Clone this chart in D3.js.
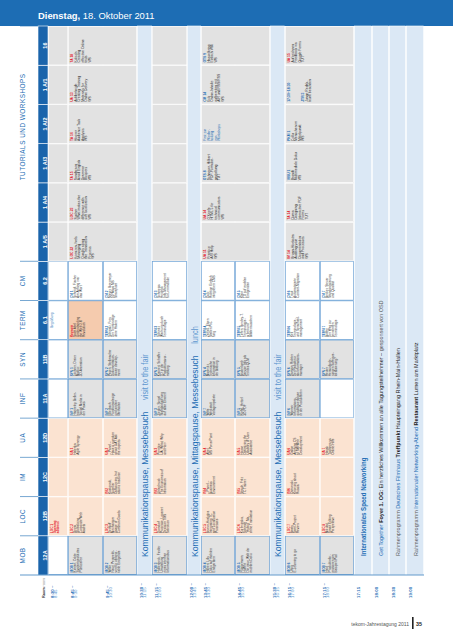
<!DOCTYPE html>
<html><head><meta charset="utf-8">
<script src="https://cdn.jsdelivr.net/npm/d3@7"></script>
<style>
html,body{margin:0;padding:0;background:#fff;}
svg{display:block;font-family:"Liberation Sans",Arial,sans-serif;}
</style></head><body>
<svg id="c" width="453" height="640"></svg>
<script>
// ---------- DATA ----------
const rooms = ["12A","12B","12C","12D","11A","11B","6.1","6.2","1 A/5","1 A/4","1 A/3","1 A/2","1 A/1","16"];
const categoryNames = ["MOB","LOC","IM","UA","INF","SYN","TERM","CM","TUTORIALS UND WORKSHOPS"];
const categoryFirst = ["12A","12B","12C","12D","11A","11B","6.1","6.2","1 A/5"];
const categoryLast  = ["12A","12B","12C","12D","11A","11B","6.1","6.2","16"];
const slotFrom = ["8:30 –","8:45 –","9:45 –","10:30 –","11:15 –","12:00 –","13:45 –","14:45 –","15:30 –","16:15 –","17:15 –","17:15","18:00","18:30","19:00"];
const slotTo   = ["8:45","9:30","10:30","11:15","12:00","13:45","14:30","15:30","16:15","17:00","18:00","","","",""];
const breakSlots = [3,5,8];
const breakMain = ["Kommunikationspause, Messebesuch","Kommunikationspause, Mittagspause, Messebesuch","Kommunikationspause, Messebesuch"];
const breakSub  = ["visit to the fair","lunch","visit to the fair"];
const eveningSlots = [11,12,13,14];
const eveningText = [
  [["Internationales Speed Networking","bb"]],
  [["Get Together ","b"],["Foyer 1. OG: ","kb"],["Ein herzliches Willkommen an alle Tagungsteilnehmer – ","k"],["gesponsert von OSD","g"]],
  [["Rahmenprogramm ","g"],["Deutsches Filmhaus ","b"],["Treffpunkt ","kb"],["Haupteingang Rhein-Main-Hallen","k"]],
  [["Rahmenprogramm ","g"],["Internationaler Networking-Abend ","b"],["Restaurant ","kb"],["Lumen am Marktplatz","k"]]
];
// [room, first slot, end slot (exclusive), code, text lines]
const sessions = [
  ["12A",1,2,"MOB 1","Kinnert, Dörte|Systemgestütztes|Publizieren"],
  ["12A",2,3,"MOB 2","Wilke|Neue Perspekti-|ven für ultrapor-|table Endgeräte"],
  ["12A",4,5,"MOB 3","Hollenbeck, Fiedler|Umstellung|eines internen|Informationsbus"],
  ["12A",6,7,"MOB 4","Hilbert, Lilly|Doku auf mobilen|Endgeräten"],
  ["12A",7,8,"MOB 5","Rüggemann,|Hoffert|Die neue Welt der|mobilen Doku"],
  ["12A",9,10,"MOB 6","Uhrig|E-Learning to go"],
  ["12A",10,11,"MOB 7","Heid|Produktinfor-|mationen am|Beispiel iPad"],
  ["12B",0,1,"LOC 1","Opening|address"],
  ["12B",1,2,"LOC 2","Gepts|Globalizing|Corporate Web|Assets"],
  ["12B",2,3,"LOC 3","Dethloff|Mechanism|Usage of|Common Goods"],
  ["12B",4,5,"LOC 4","Dorndorf|Prozesse, Locanet|Decision TMS|Selection"],
  ["12B",6,7,"LOC 5","Brown-Hoekstra|Integrating TC|and Localization|Processes"],
  ["12B",7,8,"LOC 6","Korbwinska,|Schmidt|\"Hybrid\" Ma-|chine Translation"],
  ["12B",9,10,"LOC 7","Beaty|Semi-Project|Review"],
  ["12B",10,11,"LOC 8","Mikulat|Smart Editing|Perspektive"],
  ["12C",2,3,"IM 2","Kostowski,|Supplier|Outsourcing, but|also to Insource"],
  ["12C",4,5,"IM 3","Uhlenbruck|The Economics of|Information"],
  ["12C",6,7,"IM 4","– Panel –|Business|Environment"],
  ["12C",7,8,"IM 5","Straub, Fritz|TC Trainer"],
  ["12C",9,10,"IM 6","Ostrowski|Knowing about|Russia"],
  ["12D",1,2,"UA 1","Halenka|Agile Synergy"],
  ["12D",2,3,"UA 2","– Panel –|Have a question|about UA? Ask|the experts"],
  ["12D",4,5,"UA 3","Prentice|UA: What, Why|and How"],
  ["12D",6,7,"UA 4","Abel|MS PowerPoint"],
  ["12D",7,8,"UA 5","Hoose|Optimizing the|Usability of User|Assistance"],
  ["12D",9,10,"UA 6","Gallon|Applying CS|to SW/Web|Development"],
  ["12D",10,11,"UA 7","Hasak|Tooltipps vs.|Online-Hilfe"],
  ["11A",1,2,"INF 1","Hanneley, Beller-|bach|Social Media in|der Praxis"],
  ["11A",2,3,"INF 2","Ellerbach|Funktionsdesign|und andere|Methoden"],
  ["11A",4,5,"INF 3","Ziegler, Siegel|Standardisierung|auf allen Ebenen"],
  ["11A",6,7,"INF 7","Witte|Werkstatt|Vorlagenpakete"],
  ["11A",7,8,"INF 5","Kipfel, Hetzel|3D-PDF"],
  ["11A",9,10,"INF 6","Wanner|Informations-|qualität verfolgen|in der Produktentw."],
  ["11B",1,2,"SYN 1","Lochner, Dreier|Makko:|3D-Animation"],
  ["11B",2,3,"SYN 2","Pesen, Stellmacher|Dokumentation-|driven develop-|ment"],
  ["11B",4,5,"SYN 3","Kreinert, Schaffer|TD in der|Produktionsvor-|mittlung"],
  ["11B",6,7,"SYN 4","Markwitz|Technische|Information in|der Bildung"],
  ["11B",7,8,"SYN 5","Bruderlomb|Service Info als|Teil des QLM"],
  ["11B",9,10,"SYN 6","Damian, Richter|Der Redakteur|als Informations-|manager"],
  ["11B",10,11,"SYN 7","Reuter|Herausforde-|rungen Software-|lokalisierung?"],
  ["6.1",0,1,"","Begrüßung"],
  ["6.1",1,2,"Keynote","Scott Abel|Understanding|the Web 2.0|Revolution"],
  ["6.1",2,3,"TERM 2","Schmalz, Frey|Der Terminologe|ohne Haken"],
  ["6.1",4,5,"TERM 3","Schmitz|Werbung durch|Terminologie"],
  ["6.1",6,7,"TERM 4","Zerfaß, Elsen|Stellen Prü-|fung"],
  ["6.1",7,8,"TERM 5","Tiefen, Bewley-T.|Terminologie-|arbeit und|Blätterrauschen"],
  ["6.1",9,10,"TERM 6","Keil|Terminologie-|und Sprachstil-|management"],
  ["6.1",10,11,"TERM 7","Bobbe|Der Weg zur|bewährten|Terminologie"],
  ["6.2",1,2,"CM 1","Schmidt, Fischer|Am Anfang war|das Wort"],
  ["6.2",2,3,"CM 2","Meyer, Beermeyer|10 Ways MS|Sharepoint"],
  ["6.2",4,5,"CM 3","Schmeiss|Heidelck|Info-Management|für Lernmodule"],
  ["6.2",6,7,"CM 4","Gulz|Richtige Einfach|integrieren CMS"],
  ["6.2",7,8,"CM 5","Klein|TD auf mobilen|Endgeräten"],
  ["6.2",9,10,"CM 6","Traut|Automatisierte|Content-Migration"],
  ["6.2",10,11,"CM 7","Becker, Steuer|Standardisierung|und Qualität"],
  ["1 A/5",1,3,"LOC 22","Koenzen, Ivels|Managing|Quality along|the Translation|Process|WS"],
  ["1 A/4",1,3,"LOC 23","Sucher|What makes the|difference with|soft localization|WS"],
  ["1 A/3",1,3,"TA 15","Sanderson|Avoid English|Grammar|Bloopers|WS"],
  ["1 A/2",1,3,"TA 16","Hoover|Audience Task|Analysis|WS"],
  ["1 A/1",1,3,"UA 13","Aufderheide|Creating Training|Materials for|Online Delivery|WS"],
  ["16",1,3,"TA 18","Kolisch|Creating|effective Online|tests|WS"],
  ["1 A/5",6,8,"UA 11","Prentice|A/B Help|WS"],
  ["1 A/4",6,8,"UA 14","O'Keefe|HTML 5 for|technical|communicators|WS"],
  ["1 A/3",6,8,"OTS 8","Schneyer, Hilbert|PDF-Formular-|gestaltung|TUT"],
  ["1 A/2",6,8,"","First zur|Wieder-|holung|von|Workshops"],
  ["1 A/1",6,8,"CM 14","Eck|Online-Inhalte|aufbereiten mit|AIR und RSS/RSS|WS"],
  ["16",6,8,"OTS 9","Hasselbring|Einfach Wiki|WS"],
  ["1 A/5",9,11,"IM 14","Brown-Hoekstra|Auditing your|Documentation|and Processes|WS"],
  ["1 A/4",9,11,"TA 14","Duma|Designing|Interactive PDF|Forms|TUT"],
  ["1 A/3",9,11,"VISU 1","Brandt|Multimediale Doku|WS"],
  ["1 A/2",9,11,"PKM 1","Collu|Menschen im|Mittelpunkt|WS"],
  ["1 A/1",9,11,"17:30–18:30","|||JTR 3|Junge Redak-|teure beachten"],
  ["16",9,11,"UA 15","Aufzeichnen|Feedback via|Google Forms|TUT"]
];

// ---------- STYLE ----------
const BLUE="#1d6db4", DBLUE="#1a64ab", LIGHT="#dbe8f5", PEACH="#fbe3d1", KEY="#f5cbae",
      GREY="#e2e2e2", RED="#e2202a", TXT="#2a2a2a", LBLUE="#5e97cf", GRID="#6ea3d6";
const svg = d3.select("#c");
const x = d3.scaleLinear().domain(d3.range(16))
  .range([48,68,103,137,152,187,201,235,270,285,320,354,372,389,406,424]);
const y = d3.scaleBand().domain(rooms).range([575,26]);
const bw = y.bandwidth();
const catOf = r => categoryNames[categoryFirst.findIndex((f,i)=>{
  const a = rooms.indexOf(f), b = rooms.indexOf(categoryLast[i]), k = rooms.indexOf(r);
  return k>=a && k<=b; })];
const warm = c => (c==="LOC"||c==="IM"||c==="UA");
const tut = c => c.startsWith("TUT");
const laneFill = c => warm(c) ? PEACH : (tut(c) ? GREY : "#fff");
const cellFill = c => warm(c) ? PEACH : (c==="TERM"||c==="CM") ? "#fff" : GREY;
const codeColor = code => /^(LOC|IM|UA|TA|Keynote)/.test(code) ? RED : BLUE;

// header
svg.append("rect").attr("x",0).attr("y",0).attr("width",453).attr("height",26).attr("fill",BLUE);
const ht = svg.append("text").attr("x",38).attr("y",19).attr("fill","#fff").attr("font-size",9.4);
ht.append("tspan").attr("font-weight","bold").text("Dienstag,");
ht.append("tspan").text(" 18. Oktober 2011");

// lane backgrounds + grid
const lanes = svg.append("g");
rooms.forEach(r=>{
  lanes.append("rect").attr("x",x(0)).attr("y",y(r)).attr("width",x(11)-x(0)).attr("height",bw)
    .attr("fill",laneFill(catOf(r)));
});
const grid = svg.append("g");
rooms.forEach(r=>{
  const c = catOf(r);
  d3.range(0,11).forEach(s=>{
    grid.append("rect").attr("x",x(s)+0.3).attr("y",y(r)+0.3).attr("width",x(s+1)-x(s)-0.6).attr("height",bw-0.6)
      .attr("fill","none").attr("stroke", (warm(c)||tut(c)) ? "#fff" : GRID)
      .attr("stroke-width",0.6);
  });
});

// session cells
const cells = svg.append("g");
sessions.forEach(([r,s0,s1,code,txt])=>{
  const c = catOf(r);
  let fill = cellFill(c);
  if (code==="Keynote") fill = KEY;
  if (r==="6.1" && s0===0) fill="#fff";
  const rx0 = x(s0), rx1 = x(s1), ry0 = y(r), ry1 = y(r)+bw;
  cells.append("rect").attr("x",rx0+0.4).attr("y",ry0+0.4).attr("width",rx1-rx0-0.8).attr("height",bw-0.8)
    .attr("fill",fill)
    .attr("stroke", (warm(c)||tut(c)) ? "#fff" : GRID)
    .attr("stroke-width",0.6);
  const big = tut(c);
  const fs = big ? 3.7 : 3.4, lh = big ? 3.5 : 3.05;
  const centered = !code;
  const t = cells.append("text")
    .attr("transform",`translate(${rx0+2.6},${centered && !big ? (ry0+ry1)/2 : ry1-2.6}) rotate(-90) scale(0.92,1)`)
    .attr("text-anchor", centered && !big ? "middle" : "start")
    .attr("font-size",fs).attr("fill",TXT);
  const lines = txt.split("|");
  let first = true;
  if (code) {
    t.append("tspan").attr("x",0).attr("dy",fs*0.78).attr("font-weight","bold")
      .attr("fill",codeColor(code)).text(code);
    first = false;
  }
  lines.forEach(l=>{
    const ts = t.append("tspan").attr("x",0).attr("dy", first ? fs*0.78 : lh).text(l || "\u00a0");
    if (code==="LOC 1") ts.attr("font-weight","bold").attr("fill",RED);
    if (!code) ts.attr("fill",BLUE);
    if (code==="17:30–18:30" && l==="JTR 3") ts.attr("font-weight","bold").attr("fill",BLUE);
    first = false;
  });
});

// room header band
const rh = svg.append("g");
rooms.forEach(r=>{
  rh.append("rect").attr("x",38).attr("y",y(r)).attr("width",10).attr("height",bw)
    .attr("fill",DBLUE).attr("stroke","#fff").attr("stroke-width",0.6);
  rh.append("text").attr("transform",`translate(46.6,${y(r)+bw/2}) rotate(-90)`)
    .attr("text-anchor","middle").attr("fill","#fff").attr("font-weight","bold").attr("font-size",5.5).text(r);
});

// breaks & evening bands
const bands = svg.append("g");
breakSlots.forEach((s,i)=>{
  bands.append("rect").attr("x",x(s)+0.3).attr("y",26).attr("width",x(s+1)-x(s)-0.6).attr("height",549)
    .attr("fill",LIGHT).attr("stroke","#fff").attr("stroke-width",0.6);
  const t = bands.append("text").attr("transform",`translate(${x(s)+10.6},557) rotate(-90) scale(0.9,1)`)
    .attr("font-size",9.6).attr("fill",BLUE);
  t.append("tspan").text(breakMain[i]);
  t.append("tspan").attr("dx",13).attr("fill",LBLUE).attr("font-size",8.2).text(breakSub[i]);
});
eveningSlots.forEach((s,i)=>{
  bands.append("rect").attr("x",x(s)+0.3).attr("y",26).attr("width",x(s+1)-x(s)-0.6).attr("height",549)
    .attr("fill",LIGHT).attr("stroke","#fff").attr("stroke-width",0.6);
  const t = bands.append("text").attr("transform",`translate(${x(s+1)-6.3},556) rotate(-90) scale(0.9,1)`)
    .attr("font-size", i===0 ? 6.8 : 6.1).attr("fill",TXT);
  eveningText[i].forEach(([str,st])=>{
    const ts = t.append("tspan").text(str);
    if (st[0]==="b") ts.attr("fill",BLUE);
    if (st==="bb"||st==="kb") ts.attr("font-weight","bold");
    if (st==="k"||st==="kb") ts.attr("fill","#222");
    if (st==="g") ts.attr("fill","#5a5a5a");
  });
});

// category labels
const cat = svg.append("g");
categoryNames.forEach((n,i)=>{
  const top = y(categoryLast[i]), bot = y(categoryFirst[i])+bw;
  const multi = categoryFirst[i] !== categoryLast[i];
  cat.append("text").attr("transform",`translate(24.5,${multi ? bot-81 : (top+bot)/2}) rotate(-90) scale(0.85,1)`)
    .attr("text-anchor", multi ? "start" : "middle").attr("fill",BLUE).attr("font-size",7.5).attr("letter-spacing",0.6)
    .text(n);
  cat.append("line").attr("x1",20).attr("x2",38).attr("y1",top).attr("y2",top)
    .attr("stroke",BLUE).attr("stroke-width",0.6);
});
svg.append("line").attr("x1",20).attr("x2",424).attr("y1",575).attr("y2",575).attr("stroke",BLUE).attr("stroke-width",0.7);

// time column
const tc = svg.append("g");
const rt = tc.append("text").attr("transform","translate(45,598) rotate(-90)").attr("font-size",3.8);
rt.append("tspan").attr("font-weight","bold").attr("fill","#333").text("Raum");
rt.append("tspan").attr("fill","#999").text(" room");
slotFrom.forEach((f,s)=>{
  const t = tc.append("text").attr("transform",`translate(${x(s)+2},598) rotate(-90)`).attr("font-size",4.4);
  t.append("tspan").attr("x",0).attr("dy",3.6).attr("fill",BLUE).attr("font-weight","bold").text(f);
  if (slotTo[s]) t.append("tspan").attr("x",0).attr("dy",3.6).attr("fill",LBLUE).text(slotTo[s]);
});

// footer
svg.append("text").attr("x",409).attr("y",626).attr("text-anchor","end").attr("font-size",5).attr("fill","#555")
  .text("tekom-Jahrestagung 2011");
svg.append("rect").attr("x",412).attr("y",617).attr("width",1.6).attr("height",12).attr("fill","#222");
svg.append("text").attr("x",416).attr("y",626).attr("font-size",5.4).attr("font-weight","bold").attr("fill","#222").text("35");
</script>
</body></html>
